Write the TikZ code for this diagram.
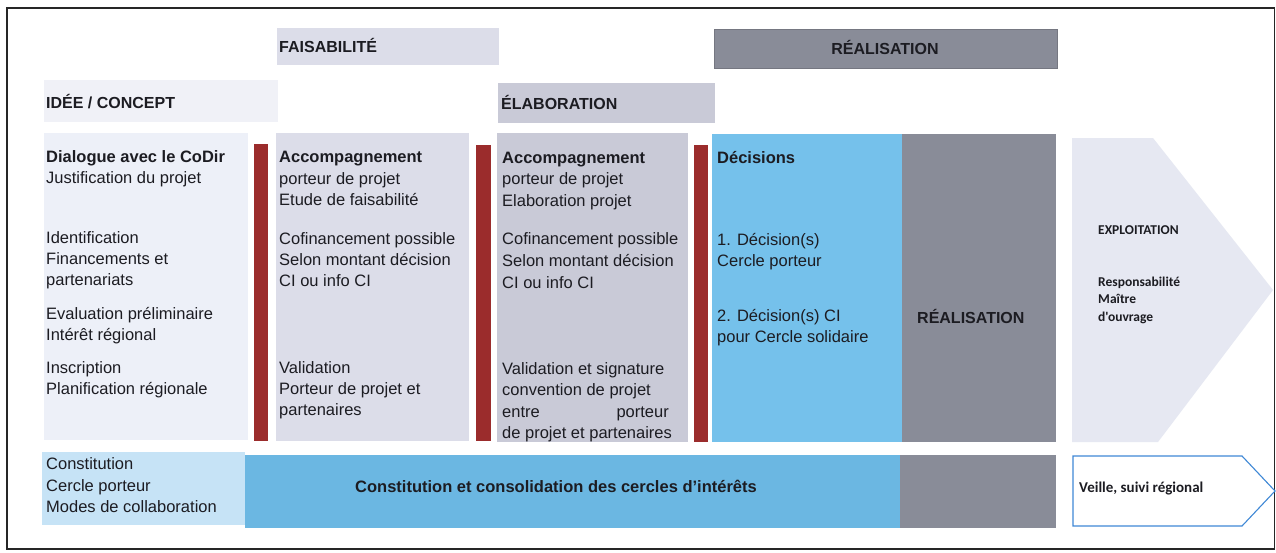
\documentclass[tikz,border=0pt]{standalone}
\usepackage{fontspec}
\setmainfont{Liberation Sans}
\newfontfamily\calib{Carlito}
\definecolor{lav}{HTML}{DCDDE9}
\definecolor{elab}{HTML}{C9CAD7}
\definecolor{idee}{HTML}{F0F1F7}
\definecolor{leftc}{HTML}{EDF0F8}
\definecolor{sky}{HTML}{75C1EB}
\definecolor{skyd}{HTML}{6BB7E2}
\definecolor{skyl}{HTML}{C6E3F6}
\definecolor{gris}{HTML}{898C98}
\definecolor{rouge}{HTML}{9B2C2C}
\definecolor{expl}{HTML}{E6E8F2}
\definecolor{veil}{HTML}{3F88D6}
\definecolor{ink}{HTML}{1C1C22}
\begin{document}
\begin{tikzpicture}[x=1pt,y=-1pt,
  txt/.style={anchor=base west,inner sep=0pt,text=ink,font=\fontsize{16.5}{21}\selectfont},
  btxt/.style={txt,font=\fontsize{16.5}{21}\selectfont\bfseries},
  head/.style={anchor=base west,inner sep=0pt,text=ink,font=\fontsize{16}{19}\selectfont\bfseries},
  ctxt/.style={anchor=base west,inner sep=0pt,text=ink,font=\fontsize{13.5}{17}\selectfont\calib\bfseries},
  bar/.style={fill=rouge}]
\useasboundingbox (0,0) rectangle (1276,552);
\fill[white] (0,0) rectangle (1276,552);
\draw[line width=1.3pt,draw=black!85] (7,8) rectangle (1274.5,549);
% header boxes
\fill[lav] (277,28) rectangle (499,65);
\fill[idee] (44,80) rectangle (278,122);
\fill[elab] (498,83) rectangle (715,123);
\fill[gris] (714,29) rectangle (1057,68);
\draw[gris!85!black,line width=0.5pt] (714,29) rectangle (1057,68);
% columns
\fill[leftc] (44,133) rectangle (248,440);
\fill[bar] (254,144) rectangle (268,441);
\fill[lav] (276,133) rectangle (469,441);
\fill[bar] (476,145) rectangle (491,441);
\fill[elab] (497,133) rectangle (688,442);
\fill[bar] (694,145) rectangle (708,442);
\fill[sky] (712,134) rectangle (902,442);
\fill[gris] (902,134) rectangle (1056,442);
\fill[expl] (1072,138) -- (1153,138) -- (1273,290) -- (1158,442) -- (1072,442) -- cycle;
% bottom row
\fill[skyl] (42,452) rectangle (245,525);
\fill[skyd] (245,455) rectangle (900,528);
\fill[gris] (900,455) rectangle (1056,528);
\draw[veil,line width=1.1pt,fill=white] (1073,456) -- (1242,456) -- (1275,491) -- (1242,526) -- (1073,526) -- cycle;
% header texts
\node[head] (hfais) at (279,52.5) {FAISABILITÉ};
\node[head] (hidee) at (46,108) {IDÉE / CONCEPT};
\node[head] (helab) at (501,109) {ÉLABORATION};
\node[head,anchor=base] (hreal) at (885,54) {RÉALISATION};
% left column
\node[btxt] (l1) at (46,162) {Dialogue avec le CoDir};
\node[txt] (l2) at (46,183) {Justification du projet};
\node[txt] (l3) at (46,243) {Identification};
\node[txt] (l4) at (46,264) {Financements et};
\node[txt] (l5) at (46,285) {partenariats};
\node[txt] (l6) at (46,319) {Evaluation préliminaire};
\node[txt] (l7) at (46,340) {Intérêt régional};
\node[txt] (l8) at (46,373) {Inscription};
\node[txt] (l9) at (46,394) {Planification régionale};
% faisabilite column
\node[btxt] (f1) at (279,162) {Accompagnement};
\node[txt] (f2) at (279,184) {porteur de projet};
\node[txt] (f3) at (279,205) {Etude de faisabilité};
\node[txt] (f4) at (279,244) {Cofinancement possible};
\node[txt] (f5) at (279,265) {Selon montant décision};
\node[txt] (f6) at (279,286) {CI ou info CI};
\node[txt] (f7) at (279,373) {Validation};
\node[txt] (f8) at (279,394) {Porteur de projet et};
\node[txt] (f9) at (279,415) {partenaires};
% elaboration column
\node[btxt] (e1) at (502,163) {Accompagnement};
\node[txt] (e2) at (502,184) {porteur de projet};
\node[txt] (e3) at (502,206) {Elaboration projet};
\node[txt] (e4) at (502,244) {Cofinancement possible};
\node[txt] (e5) at (502,266) {Selon montant décision};
\node[txt] (e6) at (502,288) {CI ou info CI};
\node[txt] (e7) at (502,374) {Validation et signature};
\node[txt] (e8) at (502,395.5) {convention de projet};
\node[txt] (e9) at (502,417) {entre};
\node[txt,anchor=base east] (e9b) at (669,417) {porteur};
\node[txt] (e10) at (502,438.5) {de projet et partenaires};
% decisions column
\node[btxt] (d1) at (717,163.7) {Décisions};
\node[txt] (d2) at (717,245) {1. Décision(s)};
\node[txt] (d3) at (717,266.7) {Cercle porteur};
\node[txt] (d4) at (717,321) {2. Décision(s) CI};
\node[txt] (d5) at (717,342.7) {pour Cercle solidaire};
% realisation column
\node[head] (rcol) at (917,323) {RÉALISATION};
% exploitation
\node[ctxt] (x1) at (1098,234.5) {EXPLOITATION};
\node[ctxt] (x2) at (1098,286) {Responsabilité};
\node[ctxt] (x3) at (1098,303.5) {Maître};
\node[ctxt] (x4) at (1098,321) {d'ouvrage};
% bottom texts
\node[txt] (b1) at (46,469) {Constitution};
\node[txt] (b2) at (46,491) {Cercle porteur};
\node[txt] (b3) at (46,512) {Modes de collaboration};
\node[btxt] (bc) at (355,492) {Constitution et consolidation des cercles d'intérêts};
\node[ctxt,font=\fontsize{15}{18}\selectfont\calib\bfseries] (vs) at (1079,492) {Veille, suivi régional};
\end{tikzpicture}
\end{document}
